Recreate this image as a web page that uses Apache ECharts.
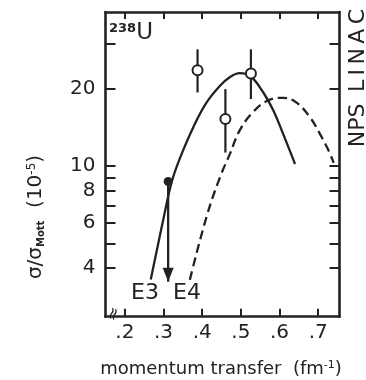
<!DOCTYPE html>
<html><head><meta charset="utf-8">
<script src="https://cdn.jsdelivr.net/npm/echarts@6/dist/echarts.min.js"></script>
<style>html,body{margin:0;padding:0;background:#fff}#c{width:366px;height:380px}</style>
</head><body><div id="c"></div>
<script>
const xTicks = [0.2, 0.3, 0.4, 0.5, 0.6, 0.7];
const yTicks = [4, 5, 6, 7, 8, 9, 10, 20, 30];
const yLabels = [4, 6, 8, 10, 20];
const e3Curve = [[0.267,3.61],[0.3035,6.62],[0.321,8.66],[0.342,10.7],[0.377,14.2],[0.411,17.7],[0.446,20.6],[0.472,22.3],[0.497,23.1],[0.523,22.6],[0.558,19.4],[0.584,16.5],[0.609,13.4],[0.640,10.2]];
const e4Curve = [[0.368,3.6],[0.411,6.33],[0.446,9.06],[0.472,11.2],[0.497,13.8],[0.532,16.3],[0.571,18.1],[0.609,18.5],[0.644,17.7],[0.679,15.5],[0.704,13.4],[0.727,11.5],[0.740,10.3]];
const openX = [0.388, 0.460, 0.526];
const openY = [23.7, 15.3, 23.0];
const errHi = [28.6, 20.0, 28.6];
const errLo = [19.4, 11.3, 18.3];
const limitPoint = [0.312, 8.72];
const limitArrowEnd = 3.54;

const ink = '#222';
const font = 'DejaVu Sans';
const chart = echarts.init(document.getElementById('c'));
const openPts = openX.map((x,i)=>[x, openY[i]]);
const errData = openX.map((x,i)=>[x, errLo[i], errHi[i]]);

const xCommon = {type:'value', min:0.15, max:0.755, splitLine:{show:false},
  axisLine:{onZero:false, lineStyle:{color:ink, width:2.6}}};
const yCommon = {type:'log', logBase:10, min:2.585, max:40, splitLine:{show:false},
  axisLine:{onZero:false, lineStyle:{color:ink, width:2.6}}, minorTick:{show:false}};

chart.setOption({
  animation:false,
  backgroundColor:'#fff',
  grid:{left:105.5, right:26.5, top:12, bottom:63.3, containLabel:false},
  xAxis:[
    Object.assign({}, xCommon, {position:'bottom',
      axisTick:{inside:true, length:8, lineStyle:{color:ink, width:2}, customValues:xTicks},
      axisLabel:{customValues:xTicks, formatter:v=>'.'+Math.round(v*10), color:ink, fontFamily:font, fontSize:20, margin:6}}),
    Object.assign({}, xCommon, {position:'top',
      axisTick:{inside:true, length:7, lineStyle:{color:ink, width:2}, customValues:xTicks},
      axisLabel:{show:false}})
  ],
  yAxis:[
    Object.assign({}, yCommon, {position:'left',
      axisTick:{inside:true, length:10, lineStyle:{color:ink, width:2}, customValues:yTicks},
      axisLabel:{customValues:yLabels, color:ink, fontFamily:font, fontSize:20, margin:10}}),
    Object.assign({}, yCommon, {position:'right',
      axisTick:{inside:true, length:10, lineStyle:{color:ink, width:2}, customValues:yTicks},
      axisLabel:{show:false}})
  ],
  series:[
    {type:'line', data:e3Curve, smooth:0.4, showSymbol:false, lineStyle:{color:ink, width:2.3}},
    {type:'line', data:e4Curve, smooth:0.4, showSymbol:false, lineStyle:{color:ink, width:2.3, type:[9,5]}},
    {type:'custom', data:errData, z:3, renderItem:(params, api)=>{
      const p1 = api.coord([api.value(0), api.value(1)]);
      const p2 = api.coord([api.value(0), api.value(2)]);
      return {type:'line', shape:{x1:p1[0], y1:p1[1], x2:p2[0], y2:p2[1]}, style:{stroke:ink, lineWidth:2.2}};
    }},
    {type:'scatter', data:openPts, z:5, symbol:'circle', symbolSize:10,
      itemStyle:{color:'#fff', borderColor:ink, borderWidth:2, opacity:1}},
    {type:'line', z:4, data:[{value:limitPoint, symbol:'circle', symbolSize:9, itemStyle:{color:ink}},
      {value:[limitPoint[0], limitArrowEnd], symbol:'triangle', symbolSize:[11,14], symbolRotate:180, symbolOffset:[0,-7], itemStyle:{color:ink}}],
      showSymbol:true, lineStyle:{color:ink, width:2.3}, itemStyle:{color:ink}}
  ],
  graphic:[
    {type:'text', x:109, y:22, style:{text:'{s|238}{u|U}', fill:ink, rich:{
      s:{fontFamily:font, fontSize:13, fontWeight:'bold', verticalAlign:'top', fill:ink},
      u:{fontFamily:font, fontSize:23, fill:ink}}}},
    {type:'text', x:131, y:282, style:{text:'E3', fontFamily:font, fontSize:22, fill:ink}},
    {type:'text', x:173, y:282, style:{text:'E4', fontFamily:font, fontSize:22, fill:ink}},
    {type:'text', x:221, y:369, style:{text:'{a|momentum transfer  (fm}{b|-1}{a|)}', align:'center', verticalAlign:'middle', rich:{
      a:{fontFamily:font, fontSize:18, fill:ink},
      b:{fontFamily:font, fontSize:11, fill:ink, verticalAlign:'top'}}}},
    {type:'text', x:36, y:217, rotation:Math.PI/2, style:{text:'{a|σ/σ}{m|Mott}{a|  (10}{b|-5}{a|)}', align:'center', verticalAlign:'middle', rich:{
      a:{fontFamily:font, fontSize:20, fill:ink},
      m:{fontFamily:font, fontSize:10, fontWeight:'bold', fill:ink, verticalAlign:'bottom'},
      b:{fontFamily:font, fontSize:12, fill:ink, verticalAlign:'top'}}}},
    {type:'text', x:358, y:78, rotation:Math.PI/2, style:{text:'NPS\u2009 L\u2009I\u2009N\u2009A\u2009C', align:'center', verticalAlign:'middle', fontFamily:font, fontSize:22, fill:ink}},
    {type:'text', x:114, y:314, rotation:Math.PI/2.5, style:{text:'≈', align:'center', verticalAlign:'middle', fontFamily:font, fontSize:17, fill:ink}}
  ]
});
</script></body></html>
